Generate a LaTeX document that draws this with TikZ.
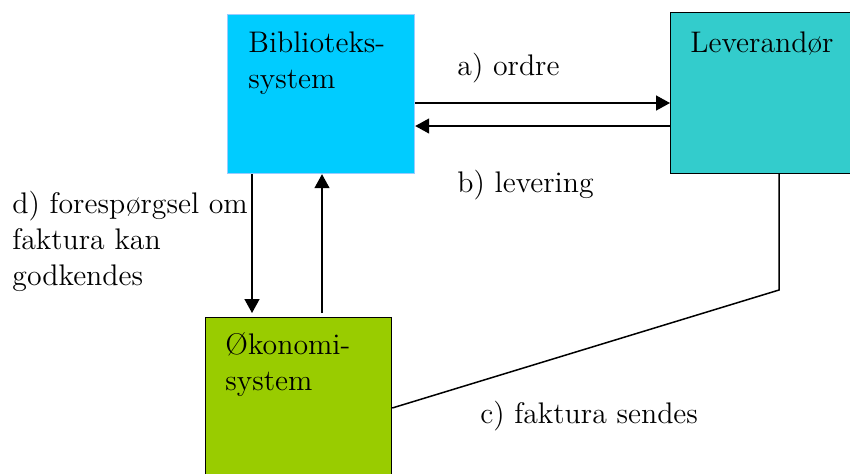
\documentclass[tikz,border=0pt]{standalone}
\usepackage{fontspec}
\usetikzlibrary{arrows.meta,positioning}
\definecolor{bibblue}{RGB}{0,204,255}
\definecolor{bibedge}{RGB}{153,204,255}
\definecolor{levcyan}{RGB}{51,204,204}
\definecolor{okogreen}{RGB}{153,204,0}
\tikzset{
  sysbox/.style={draw=black,line width=0.6pt,inner sep=0pt,anchor=north west},
  boxtext/.style={anchor=base west,align=left,inner sep=0pt,font=\fontsize{14.9}{18}\selectfont},
  flow/.style={line width=0.75pt,-{Triangle[length=7pt,width=7.5pt]}},
}
\begin{document}
\begin{tikzpicture}[x=0.5pt,y=-0.5pt]
            \useasboundingbox (0,0) rectangle (850,473);
            \node[sysbox,fill=bibblue,draw=bibedge,minimum width=93.5pt,minimum height=79.5pt] (bib) at (227,14) {};
            \node[sysbox,fill=levcyan,minimum width=100pt,minimum height=80.5pt] (lev) at (670,12) {};
            \node[sysbox,fill=okogreen,minimum width=93pt,minimum height=85pt] (oko) at (205,317) {};
            % tekst i kasserne (base = sidste linje)
            \node[boxtext] (bibtxt) at (248,88) {Biblioteks-\\system};
            \node[boxtext] (levtxt) at (690,52) {Leverandør};
            \node[boxtext] (okotxt) at (225,390) {Økonomi-\\system};
            % hjælpepunkter
            \path (0,103) coordinate (ya);
            \path (0,126) coordinate (yb);
            \path (252,0) coordinate (xd);
            \path (322,0) coordinate (xu);
            \path (779,290) coordinate (cbend);
            \path (0,408) coordinate (yc);
            \draw[flow] (bib.east |- ya) -- (lev.west |- ya);
            \draw[flow] (lev.west |- yb) -- (bib.east |- yb);
            \draw[flow,shorten >=2pt] (bib.south -| xd) -- (oko.north -| xd);
            \draw[flow,shorten <=2pt] (oko.north -| xu) -- (bib.south -| xu);
            \draw[line width=0.75pt] (lev.south -| cbend) -- (cbend) -- (oko.east |- yc);
            \node[boxtext] (ordre) at (457,75) {a) ordre};
            \node[boxtext] (levering) at (457,192) {b) levering};
            \node[boxtext] (faktura) at (480,423) {c) faktura sendes};
            \node[boxtext] (foresp) at (12,285) {d) forespørgsel om\\faktura kan\\godkendes};
        \end{tikzpicture}
\end{document}
